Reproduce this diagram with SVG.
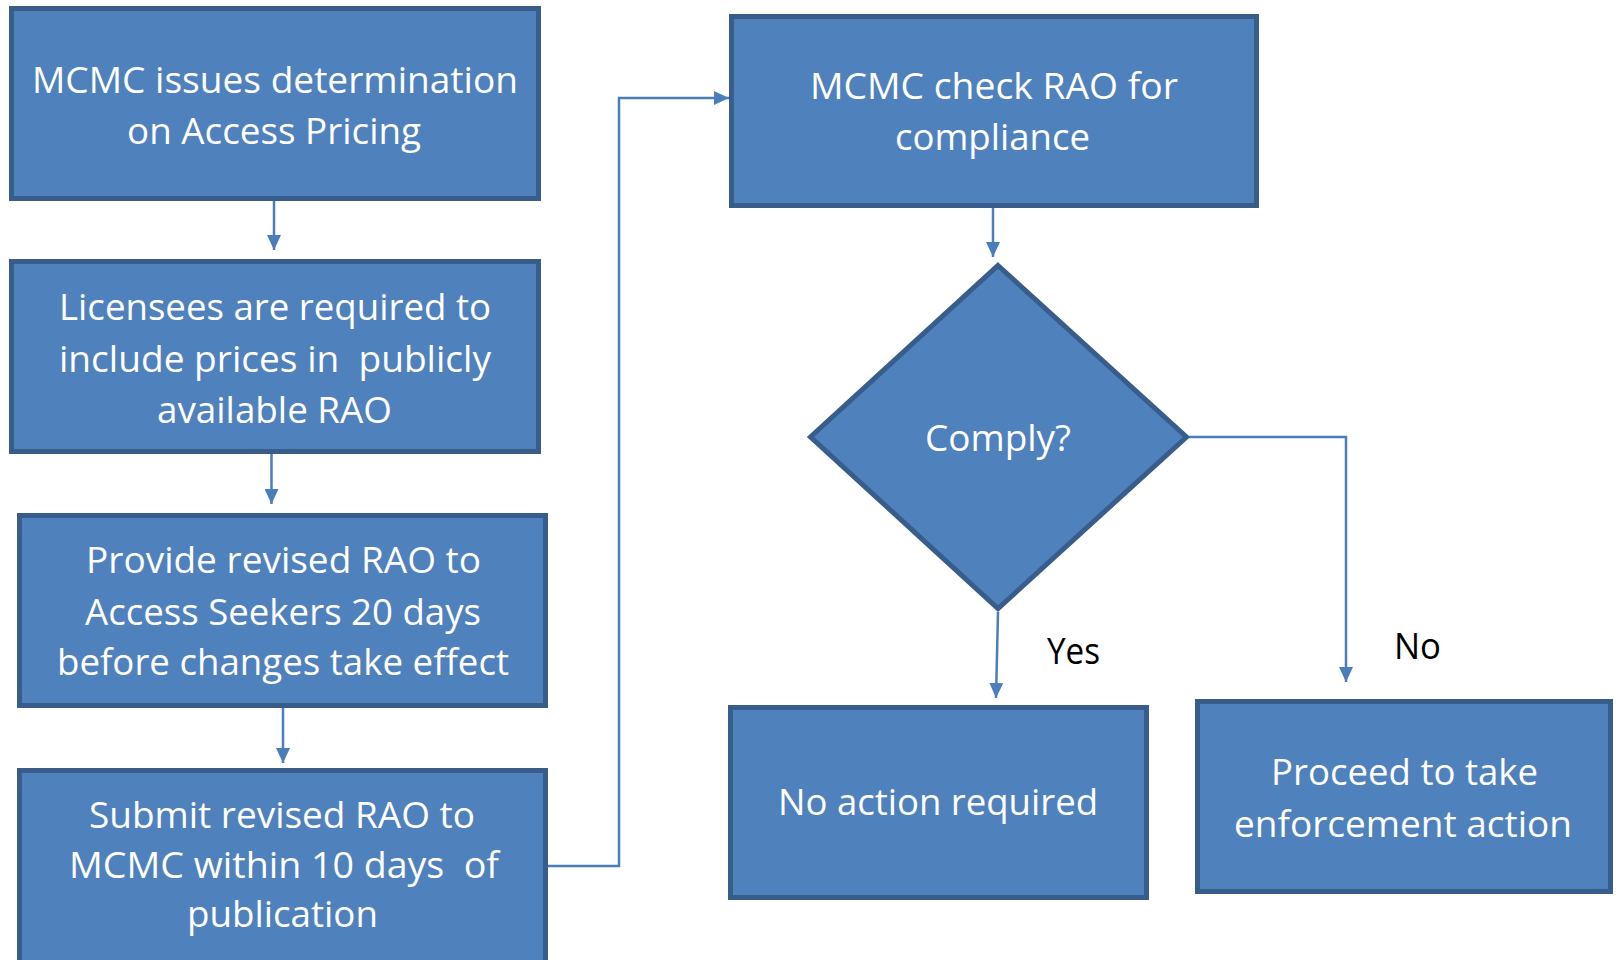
<svg xmlns="http://www.w3.org/2000/svg" width="1618" height="960" viewBox="0 0 1618 960">
<style>
.box{fill:#4F81BD;stroke:#385D8A;stroke-width:5}
.t{font-family:"Open Sans","Noto Sans","Liberation Sans",sans-serif;font-size:37px;fill:#FFFFFF;text-anchor:middle}
.lbl{font-family:"Open Sans","Noto Sans","Liberation Sans",sans-serif;font-size:37px;fill:#000000;text-anchor:middle}
.c{fill:none;stroke:#4A7EBB;stroke-width:2.5}
</style>
<defs>
<marker id="ah" viewBox="0 0 15 14" refX="15" refY="7" markerWidth="15" markerHeight="14" markerUnits="userSpaceOnUse" orient="auto">
<path d="M0,0 L15,7 L0,14 z" fill="#4A7EBB"/>
</marker>
</defs>
<rect width="1618" height="960" fill="#FFFFFF"/>
<g id="connectors">
<line class="c" x1="274" y1="201" x2="274" y2="250" marker-end="url(#ah)"/>
<line class="c" x1="271.5" y1="454" x2="271.5" y2="504" marker-end="url(#ah)"/>
<line class="c" x1="283" y1="708" x2="283" y2="763" marker-end="url(#ah)"/>
<polyline class="c" points="548,866 619,866 619,98 729,98" marker-end="url(#ah)"/>
<line class="c" x1="993" y1="208" x2="993" y2="257" marker-end="url(#ah)"/>
<line class="c" x1="998" y1="612" x2="996" y2="698" marker-end="url(#ah)"/>
<polyline class="c" points="1189,437 1346,437 1346,682" marker-end="url(#ah)"/>
</g>
<g id="n1">
<rect class="box" x="11.5" y="8.5" width="527" height="190"/>
<text class="t" x="275" y="93" textLength="486" lengthAdjust="spacingAndGlyphs">MCMC issues determination</text>
<text class="t" x="274" y="144" textLength="294" lengthAdjust="spacingAndGlyphs">on Access Pricing</text>
</g>
<g id="n2">
<rect class="box" x="11.5" y="261.5" width="527" height="190"/>
<text class="t" x="275" y="320" textLength="432" lengthAdjust="spacingAndGlyphs">Licensees are required to</text>
<text class="t" x="275" y="372" textLength="432" lengthAdjust="spacingAndGlyphs" xml:space="preserve">include prices in  publicly</text>
<text class="t" x="274.5" y="423" textLength="235" lengthAdjust="spacingAndGlyphs">available RAO</text>
</g>
<g id="n3">
<rect class="box" x="19.5" y="515.5" width="526" height="190"/>
<text class="t" x="283.5" y="573" textLength="395" lengthAdjust="spacingAndGlyphs">Provide revised RAO to</text>
<text class="t" x="283" y="625" textLength="396" lengthAdjust="spacingAndGlyphs">Access Seekers 20 days</text>
<text class="t" x="283" y="675" textLength="452" lengthAdjust="spacingAndGlyphs">before changes take effect</text>
</g>
<g id="n4">
<rect class="box" x="19.5" y="770.5" width="526" height="200"/>
<text class="t" x="282" y="828" textLength="386" lengthAdjust="spacingAndGlyphs">Submit revised RAO to</text>
<text class="t" x="284" y="878" textLength="430" lengthAdjust="spacingAndGlyphs" xml:space="preserve">MCMC within 10 days  of</text>
<text class="t" x="282.5" y="927" textLength="191" lengthAdjust="spacingAndGlyphs">publication</text>
</g>
<g id="n5">
<rect class="box" x="731.5" y="16.5" width="525" height="189"/>
<text class="t" x="994" y="99" textLength="368" lengthAdjust="spacingAndGlyphs">MCMC check RAO for</text>
<text class="t" x="992.5" y="150" textLength="195" lengthAdjust="spacingAndGlyphs">compliance</text>
</g>
<g id="n6">
<polygon class="box" points="998,265.5 1186.5,437 998,608.5 810.5,437"/>
<text class="t" x="998" y="451" textLength="146" lengthAdjust="spacingAndGlyphs">Comply?</text>
</g>
<g id="n7">
<rect class="box" x="730.5" y="707.5" width="416" height="190"/>
<text class="t" x="938" y="815" textLength="320" lengthAdjust="spacingAndGlyphs">No action required</text>
</g>
<g id="n8">
<rect class="box" x="1197.5" y="701.5" width="413" height="190"/>
<text class="t" x="1404.5" y="785" textLength="267" lengthAdjust="spacingAndGlyphs">Proceed to take</text>
<text class="t" x="1403" y="837" textLength="338" lengthAdjust="spacingAndGlyphs">enforcement action</text>
</g>
<g id="labels">
<text class="lbl" x="1073.5" y="664" textLength="53" lengthAdjust="spacingAndGlyphs">Yes</text>
<text class="lbl" x="1417.5" y="659" textLength="47" lengthAdjust="spacingAndGlyphs">No</text>
</g>
</svg>
